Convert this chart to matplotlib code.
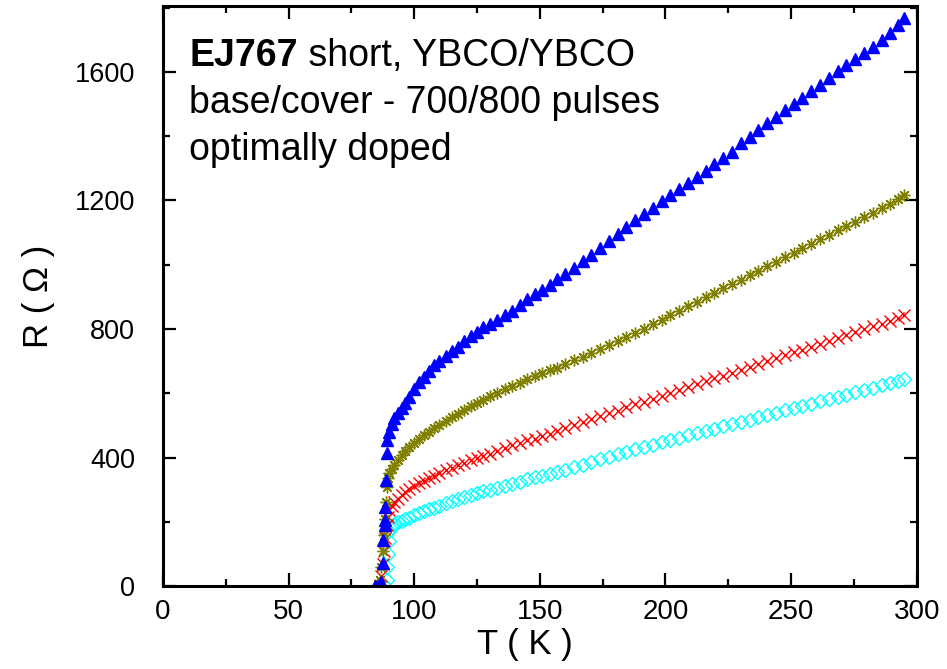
import matplotlib
matplotlib.use("Agg")
import matplotlib.pyplot as plt
from matplotlib.ticker import MultipleLocator

plt.rcParams['font.family'] = ['Liberation Sans', 'DejaVu Sans']

# --- DATA ---
# normal-state temperature grid shared by all four curves (K)
temp = [90, 91, 92, 93.5, 95, 96.5, 98, 100, 102, 104, 106, 108, 110,
        112.5, 115, 117.5, 120, 122.5, 125, 127.5, 130, 133, 136, 139, 142,
        145, 148, 151, 154, 157, 160, 163.5, 167, 170.5, 174, 177.5, 181,
        184.5, 188, 191.5, 195, 198.5, 202, 205.5, 209, 212.5, 216, 219.5,
        223, 226.5, 230, 233.5, 237, 240.5, 244, 247.5, 251, 254.5, 258,
        261.5, 265, 268.5, 272, 275.5, 279, 282.5, 286, 289.5, 292.5, 295]

r_blue = [480, 505, 522, 540, 553, 570, 588, 612, 635, 652, 670, 688, 700,
          717, 730, 745, 762, 778, 792, 805, 815, 828, 842, 857, 875,
          892, 908, 922, 938, 955, 972, 990, 1010, 1030, 1052, 1075, 1097,
          1118, 1138, 1158, 1178, 1198, 1218, 1236, 1254, 1272, 1292, 1312,
          1332, 1352, 1378, 1398, 1420, 1440, 1460, 1482, 1500, 1520, 1540,
          1560, 1582, 1602, 1622, 1640, 1660, 1679, 1700, 1722, 1745, 1768]

r_olive = [352, 365, 376, 392, 408, 420, 432, 445, 458, 470, 480, 491, 501,
           513, 525, 536, 548, 560, 570, 580, 590, 601, 612, 622, 633,
           643, 653, 662, 671, 680, 690, 702, 714, 726, 738, 750, 762,
           775, 788, 801, 815, 829, 843, 857, 871, 885, 899, 912,
           926, 940, 953, 967, 981, 995, 1009, 1023, 1037, 1051, 1065,
           1079, 1093, 1107, 1120, 1134, 1148, 1161, 1175, 1190, 1204, 1218]

r_red = [237, 250, 260, 272, 284, 293, 301, 311, 320, 328, 336, 343, 351,
         360, 368, 376, 383, 392, 398, 404, 410, 420, 430, 438, 446,
         453, 459, 466, 474, 483, 492, 501, 510, 519, 528, 537, 546,
         556, 565, 574, 583, 592, 601, 610, 619, 628, 637, 646,
         655, 664, 673, 682, 691, 700, 709, 718, 727, 736, 745,
         754, 763, 772, 781, 790, 799, 808, 817, 826, 834, 845]

r_cyan = [172, 185, 192, 198, 203, 208, 213, 220, 227, 233, 239, 244, 250,
          257, 264, 271, 278, 284, 290, 295, 300, 306, 311, 318, 325,
          332, 338, 344, 350, 356, 362, 370, 378, 386, 394, 402, 410,
          418, 425, 432, 440, 447, 454, 461, 469, 476, 483, 490,
          497, 504, 511, 518, 526, 533, 540, 547, 554, 561, 568,
          575, 582, 589, 596, 603, 610, 617, 625, 632, 638, 645]

# superconducting transitions
tc_blue_t = [84.5, 85.5, 86.5, 87.0, 87.5, 87.8, 88.2, 88.3, 88.5, 88.8, 89.2, 89.3]
tc_blue_r = [0, 0, 5, 13, 71, 143, 190, 205, 247, 330, 415, 455]
tc_olive_t = [86.0, 86.5, 87.0, 87.5, 88.0, 88.3, 88.6, 89.0, 89.5]
tc_olive_r = [0, 20, 60, 110, 160, 210, 260, 309, 335]
tc_red_t = [86.5, 87.0, 87.5, 88.0, 88.5, 89.0, 89.5]
tc_red_r = [0, 30, 70, 110, 150, 190, 215]
tc_cyan_t = [88.5, 89.0, 89.3, 89.6, 89.9]
tc_cyan_r = [0, 20, 60, 100, 140]

fig = plt.figure(figsize=(9.47, 6.69), dpi=100)
ax = fig.add_axes([0.172, 0.124, 0.796, 0.867])

# cyan open diamonds
ax.plot(tc_cyan_t + temp, tc_cyan_r + r_cyan, linestyle='none', marker='D',
        ms=7, mfc='none', mec='#00ffff', mew=1.0)
# red crosses
ax.plot(tc_red_t + temp, tc_red_r + r_red, linestyle='none', marker='x',
        ms=8, color='#ff0000', mew=1.0)
# olive asterisks
ax.plot(tc_olive_t + temp, tc_olive_r + r_olive, linestyle='none',
        marker=(8, 2, 0), ms=8.5, color='#808000', mew=1.0)
# blue filled triangles
ax.plot(tc_blue_t + temp, tc_blue_r + r_blue, linestyle='none', marker='^',
        ms=8, color='#0000ff', mec='#0000ff')

ax.set_xlim(0, 300)
ax.set_ylim(0, 1805)
ax.xaxis.set_major_locator(MultipleLocator(50))
ax.xaxis.set_minor_locator(MultipleLocator(25))
ax.yaxis.set_major_locator(MultipleLocator(400))
ax.yaxis.set_minor_locator(MultipleLocator(200))

ax.tick_params(which='both', direction='in', top=True, right=True, width=1.6)
ax.tick_params(which='major', length=9.5)
ax.tick_params(which='minor', length=5)
ax.tick_params(axis='x', which='major', labelsize=20, pad=9)
ax.tick_params(axis='y', which='major', labelsize=19.5, pad=20)
for sp in ax.spines.values():
    sp.set_linewidth(2.2)

ax.set_xlabel('T ( K )', fontsize=25)
ax.set_ylabel('R ( Ω )', fontsize=25)
ax.xaxis.set_label_coords(0.48, -0.072)
ax.yaxis.set_label_coords(-0.143, 0.5)

# annotation block
fs = 27
t1 = ax.text(0.035, 0.897, 'EJ767', transform=ax.transAxes, fontsize=fs,
             fontweight='bold', va='baseline', ha='left')
ax.annotate(' short, YBCO/YBCO', xy=(1, 0), xycoords=t1, fontsize=fs,
            va='bottom', ha='left')
ax.text(0.035, 0.816, 'base/cover - 700/800 pulses', transform=ax.transAxes,
        fontsize=fs, va='baseline', ha='left')
ax.text(0.035, 0.734, 'optimally doped', transform=ax.transAxes,
        fontsize=fs, va='baseline', ha='left')

fig.savefig('out.png', dpi=100)
